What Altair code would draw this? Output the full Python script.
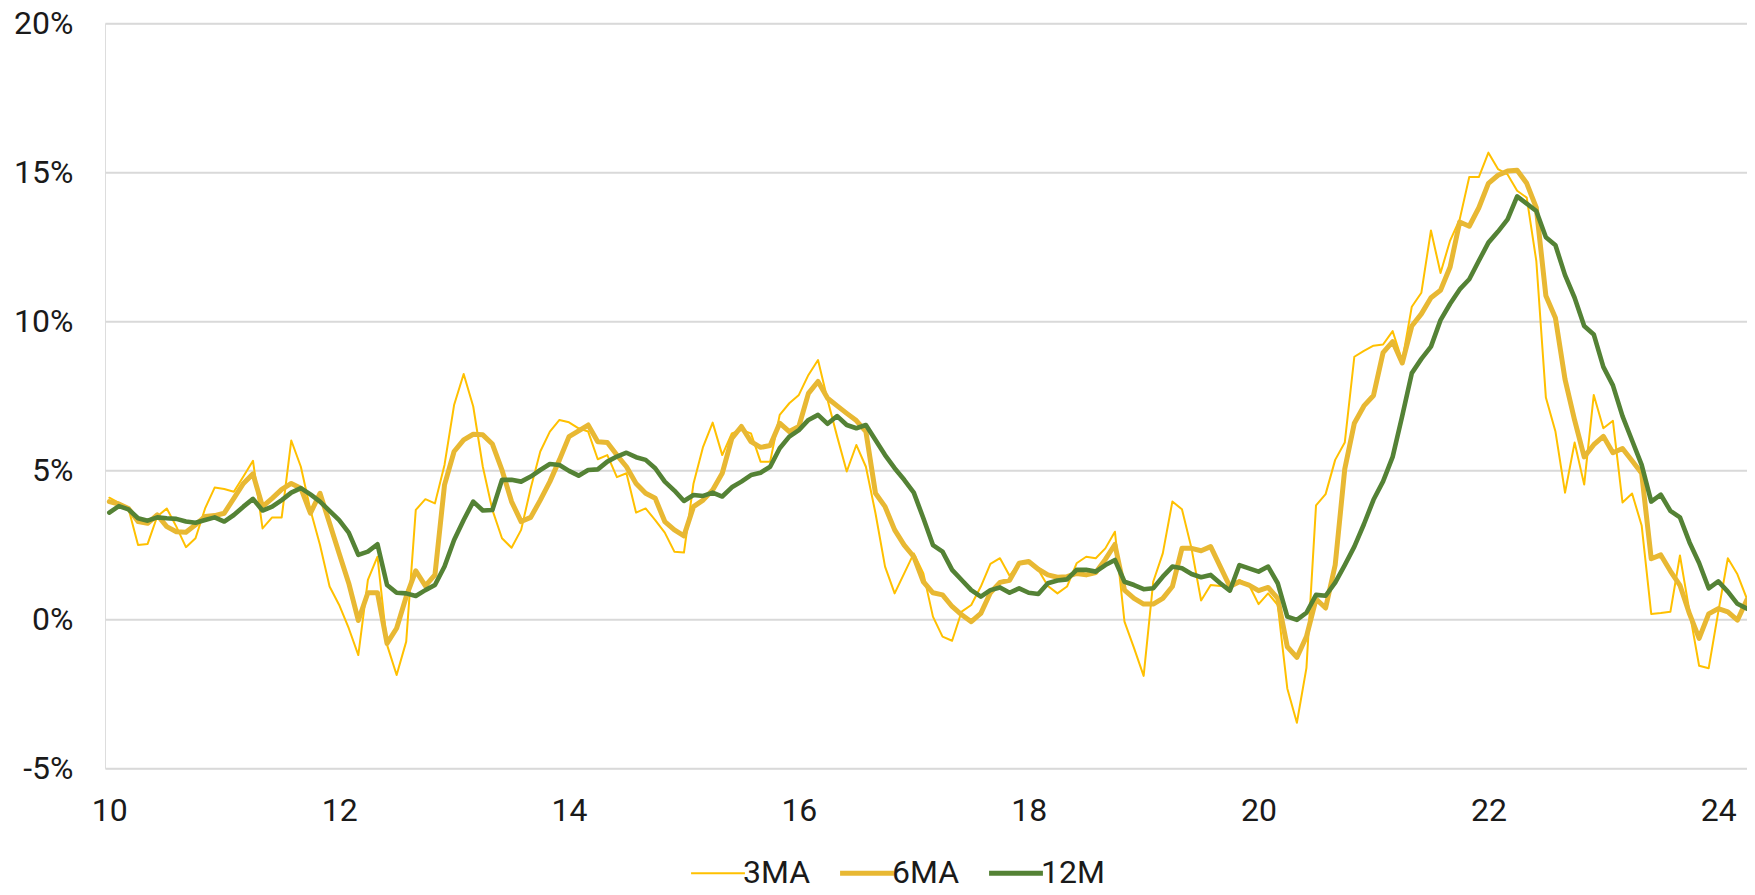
import altair as alt
import pandas as pd

series_names = ["3MA", "6MA", "12M"]
series_colors = ["#FFC000", "#E8B833", "#548235"]
series_widths = [2.0, 5.0, 4.6]

start_year = 10  # first month = Jan 2010

ma3 = [4.08, 3.91, 3.72, 2.49, 2.53, 3.45, 3.72, 3.11, 2.42, 2.72, 3.72, 4.42,
       4.37, 4.28, 4.79, 5.32, 3.05, 3.42, 3.42, 6.00, 5.12, 3.67, 2.49, 1.10,
       0.48, -0.30, -1.20, 1.32, 2.10, -0.86, -1.87, -0.75, 3.67, 4.03, 3.89, 5.18,
       7.19, 8.23, 7.14, 5.12, 3.67, 2.72, 2.40, 3.00, 4.40, 5.63, 6.30, 6.69,
       6.61, 6.41, 6.30, 5.37, 5.51, 4.77, 4.90, 3.58, 3.72, 3.33, 2.91, 2.27,
       2.24, 4.56, 5.79, 6.60, 5.51, 6.24, 6.35, 6.24, 5.29, 5.29, 6.86, 7.25,
       7.53, 8.20, 8.70, 7.36, 6.13, 4.96, 5.85, 5.12, 3.56, 1.77, 0.87, 1.54,
       2.21, 1.54, 0.09, -0.58, -0.72, 0.26, 0.48, 1.10, 1.86, 2.05, 1.46, 1.88,
       1.88, 1.66, 1.12, 0.87, 1.10, 1.88, 2.10, 2.05, 2.38, 2.94, -0.08, -0.97,
       -1.90, 1.26, 2.21, 3.95, 3.69, 2.38, 0.63, 1.15, 1.12, 1.12, 1.32, 1.15,
       0.51, 0.87, 0.48, -2.32, -3.47, -1.63, 3.82, 4.20, 5.35, 5.93, 8.81, 9.01,
       9.18, 9.22, 9.67, 8.67, 10.49, 10.96, 13.05, 11.62, 12.71, 13.42, 14.84, 14.84,
       15.66, 15.11, 14.93, 14.38, 14.15, 12.03, 7.44, 6.30, 4.25, 5.93, 4.52, 7.53,
       6.41, 6.66, 3.92, 4.22, 3.15, 0.18, 0.21, 0.25, 2.14, 0.25, -1.56, -1.64,
       0.25, 2.05, 1.51, 0.68]

ma6 = [3.95, 3.87, 3.72, 3.28, 3.22, 3.50, 3.11, 2.94, 2.92, 3.17, 3.45, 3.48,
       3.56, 4.06, 4.56, 4.88, 3.78, 4.06, 4.36, 4.56, 4.40, 3.56, 4.23, 3.22,
       2.21, 1.21, -0.04, 0.89, 0.89, -0.81, -0.30, 0.76, 1.63, 1.12, 1.49, 4.51,
       5.63, 6.02, 6.21, 6.19, 5.88, 5.01, 3.95, 3.28, 3.42, 4.00, 4.62, 5.35,
       6.13, 6.32, 6.52, 5.96, 5.93, 5.51, 5.12, 4.56, 4.23, 4.06, 3.28, 3.00,
       2.80, 3.78, 4.00, 4.34, 4.90, 6.07, 6.47, 5.96, 5.77, 5.83, 6.58, 6.30,
       6.47, 7.58, 7.98, 7.42, 7.16, 6.91, 6.67, 6.30, 4.23, 3.78, 3.00, 2.49,
       2.10, 1.26, 0.89, 0.82, 0.43, 0.15, -0.08, 0.20, 0.89, 1.24, 1.31, 1.88,
       1.94, 1.68, 1.49, 1.41, 1.43, 1.54, 1.49, 1.57, 2.01, 2.51, 0.98, 0.70,
       0.51, 0.51, 0.70, 1.10, 2.38, 2.38, 2.30, 2.44, 1.77, 1.10, 1.26, 1.15,
       0.96, 1.07, 0.70, -0.92, -1.28, -0.58, 0.68, 0.38, 1.82, 5.04, 6.58, 7.16,
       7.51, 8.95, 9.32, 8.60, 9.84, 10.25, 10.79, 11.04, 11.82, 13.33, 13.19, 13.81,
       14.63, 14.90, 15.04, 15.07, 14.63, 13.81, 10.86, 10.11, 8.05, 6.68, 5.45, 5.86,
       6.14, 5.59, 5.73, 5.32, 4.90, 2.03, 2.16, 1.62, 1.14, 0.18, -0.64, 0.18,
       0.36, 0.25, -0.03, 0.66]

m12 = [3.58, 3.80, 3.69, 3.39, 3.31, 3.42, 3.39, 3.37, 3.28, 3.24, 3.33, 3.42,
       3.28, 3.50, 3.78, 4.04, 3.65, 3.78, 4.00, 4.25, 4.40, 4.19, 3.95, 3.64,
       3.33, 2.91, 2.16, 2.27, 2.52, 1.15, 0.89, 0.87, 0.78, 0.98, 1.15, 1.77,
       2.66, 3.33, 3.95, 3.65, 3.67, 4.68, 4.68, 4.62, 4.79, 5.01, 5.21, 5.18,
       4.98, 4.82, 5.01, 5.03, 5.29, 5.46, 5.59, 5.44, 5.35, 5.07, 4.62, 4.32,
       3.97, 4.17, 4.14, 4.25, 4.12, 4.43, 4.62, 4.84, 4.92, 5.12, 5.74, 6.13,
       6.35, 6.69, 6.86, 6.56, 6.82, 6.52, 6.41, 6.52, 6.02, 5.51, 5.07, 4.68,
       4.25, 3.39, 2.49, 2.27, 1.66, 1.32, 0.98, 0.76, 0.98, 1.07, 0.89, 1.04,
       0.89, 0.85, 1.21, 1.30, 1.34, 1.66, 1.66, 1.60, 1.82, 1.99, 1.26, 1.15,
       1.01, 1.04, 1.43, 1.77, 1.71, 1.52, 1.41, 1.49, 1.21, 0.96, 1.82, 1.71,
       1.60, 1.77, 1.21, 0.09, -0.02, 0.22, 0.82, 0.79, 1.23, 1.82, 2.44, 3.19,
       4.01, 4.63, 5.45, 6.82, 8.26, 8.74, 9.15, 10.04, 10.59, 11.07, 11.41, 12.03,
       12.64, 13.01, 13.42, 14.19, 13.95, 13.70, 12.82, 12.55, 11.55, 10.79, 9.84, 9.56,
       8.47, 7.85, 6.82, 6.00, 5.18, 3.95, 4.18, 3.64, 3.42, 2.58, 1.89, 1.04,
       1.27, 0.93, 0.52, 0.36]

x_ticks = [10, 12, 14, 16, 18, 20, 22, 24]
y_ticks = [-5, 0, 5, 10, 15, 20]

rows = []
for name, w, vals in zip(series_names, series_widths, [ma3, ma6, m12]):
    for i, v in enumerate(vals):
        rows.append({"t": start_year + i / 12.0, "value": v, "series": name, "w": w})
df = pd.DataFrame(rows)

FONT = "Roboto"
TXT = "#1a1a1a"

chart = alt.Chart(df).mark_line(strokeJoin="round", strokeCap="round").encode(
    x=alt.X("t:Q",
            scale=alt.Scale(domain=[start_year - 0.45 / 12, start_year + 171.0 / 12], nice=False, zero=False),
            axis=alt.Axis(values=x_ticks, title=None, grid=False, domain=False, ticks=False, tickSize=0,
                          labelFont=FONT, labelFontSize=32, labelColor=TXT, labelPadding=27,
                          labelExpr="format(datum.value, 'd')")),
    y=alt.Y("value:Q",
            scale=alt.Scale(domain=[-5, 20], nice=False, zero=False),
            axis=alt.Axis(values=y_ticks, title=None, grid=True, gridColor="#D9D9D9", gridWidth=2,
                          domain=False, ticks=False, tickSize=0,
                          labelFont=FONT, labelFontSize=32, labelColor=TXT, labelPadding=32,
                          labelExpr="(datum.value < 0 ? '-' + format(-datum.value, 'd') : format(datum.value, 'd')) + '%'")),
    color=alt.Color("series:N", scale=alt.Scale(domain=series_names, range=series_colors),
                    legend=alt.Legend(
                        title=None, orient="none", legendX=597, legendY=834, direction="horizontal",
                        symbolType="stroke", symbolSize=2900,
                        symbolStrokeWidth={"expr": "datum.value == '3MA' ? 2 : 5"},
                        labelFont=FONT, labelFontSize=32, labelColor=TXT, labelOffset=9,
                        columnPadding=19, padding=0)),
    strokeWidth=alt.StrokeWidth("w:Q", scale=None),
).properties(
    width=1642,
    height=745,
    autosize=alt.AutoSizeParams(type="none"),
    padding={"left": 97, "top": 15.3, "right": 0, "bottom": 127},
).configure_view(stroke=None).configure(background="white")

chart.save("out.html", embed_options={"renderer": "svg", "actions": False})
